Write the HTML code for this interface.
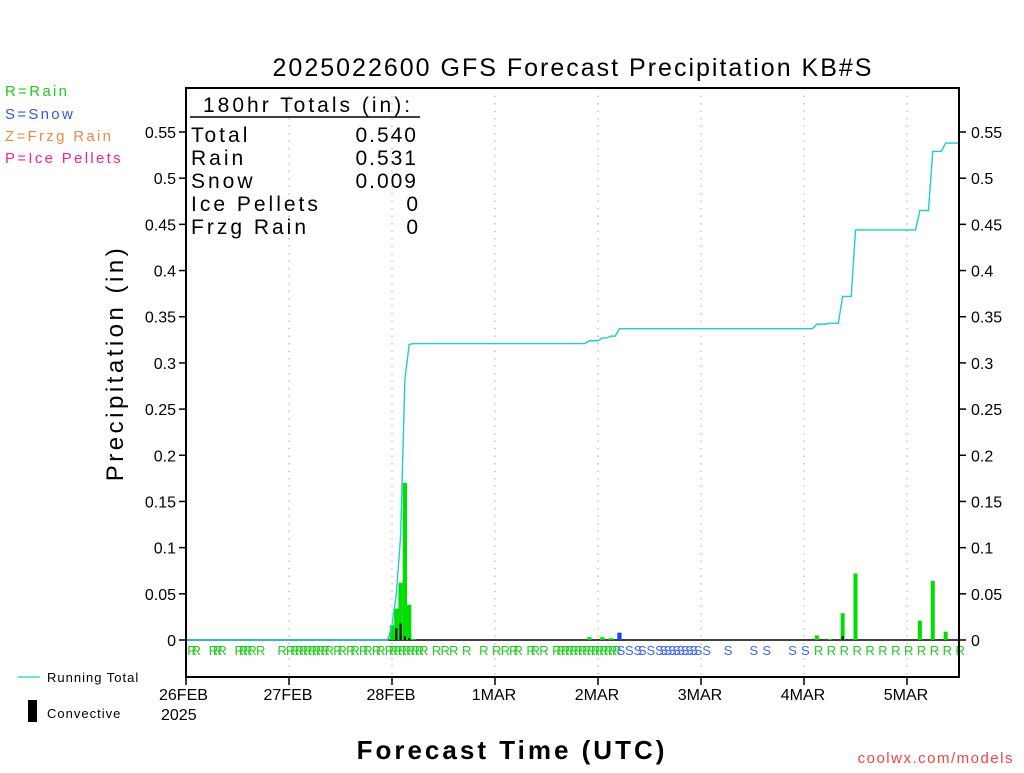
<!DOCTYPE html>
<html><head><meta charset="utf-8"><style>
body{margin:0;background:#fff;}
svg text{font-family:"Liberation Sans","DejaVu Sans",sans-serif;}
</style></head><body>
<svg width="1024" height="768" viewBox="0 0 1024 768" xmlns="http://www.w3.org/2000/svg">
<rect width="1024" height="768" fill="#fff"/>
<text x="573" y="76" font-size="25" letter-spacing="2" text-anchor="middle" fill="#000">2025022600 GFS Forecast Precipitation KB#S</text>
<g font-size="15" letter-spacing="2.3">
<text x="5" y="96" fill="#22cc22">R=Rain</text>
<text x="5" y="119" fill="#3355ee">S=Snow</text>
<text x="5" y="141" fill="#ee8844">Z=Frzg Rain</text>
<text x="5" y="163" fill="#ee2299">P=Ice Pellets</text>
</g>
<g id="plot"></g>
<g font-size="21" fill="#000" letter-spacing="3">
<text x="203" y="112">180hr Totals (in):</text>
<line x1="190" y1="117" x2="420" y2="117" stroke="#000" stroke-width="1.5"/>
<text x="191" y="142">Total</text><text x="418" y="142" text-anchor="end" letter-spacing="2">0.540</text>
<text x="191" y="165">Rain</text><text x="418" y="165" text-anchor="end" letter-spacing="2">0.531</text>
<text x="191" y="188">Snow</text><text x="418" y="188" text-anchor="end" letter-spacing="2">0.009</text>
<text x="191" y="211">Ice Pellets</text><text x="418" y="211" text-anchor="end" letter-spacing="0">0</text>
<text x="191" y="234">Frzg Rain</text><text x="418" y="234" text-anchor="end" letter-spacing="0">0</text>
</g>
<text transform="translate(123,363) rotate(-90)" font-size="24" text-anchor="middle" letter-spacing="3.5">Precipitation (in)</text>
<text x="512" y="759" font-size="26" font-weight="bold" text-anchor="middle" letter-spacing="3">Forecast Time (UTC)</text>
<text x="1014" y="763" font-size="15" fill="#ee4444" text-anchor="end" letter-spacing="1.5">coolwx.com/models</text>
<g>
<line x1="18" y1="677" x2="40" y2="677" stroke="#22cccc" stroke-width="1.2"/>
<text x="47" y="682" font-size="13" letter-spacing="1">Running Total</text>
<rect x="28" y="700" width="9" height="22" fill="#000"/>
<text x="47" y="718" font-size="13" letter-spacing="1">Convective</text>
</g>
</svg>
<script>
const hours=[48,49,50,51,52,53,94,97,99,101,147,150,153,156,171,174,177];
const precip=[0.016,0.034,0.062,0.170,0.038,0.001,0.003,0.003,0.002,0.008,0.005,0.001,0.029,0.072,0.021,0.064,0.009];
const ptype=['R','R','R','R','R','R','R','R','R','S','R','R','R','R','R','R','R'];
const convHours=[49,50,51,52,153];
const convVals=[0.013,0.018,0.004,0.002,0.004];
const yTicks=[0,0.05,0.1,0.15,0.2,0.25,0.3,0.35,0.4,0.45,0.5,0.55];
const yTickLabels=['0','0.05','0.1','0.15','0.2','0.25','0.3','0.35','0.4','0.45','0.5','0.55'];
const dayLabels=['26FEB','27FEB','28FEB','1MAR','2MAR','3MAR','4MAR','5MAR'];
const rHours=[1,2,6,7,8,12,13,14,15,17,22,24,25,26,27,28,29,30,31,32,33,35,36,38,39,41,42,44,45,47,48,49,50,51,52,53,54,55,58,60,62,65,69,72,74,76,77,80,81,83,86,87,88,89,90,91,92,93,94,95,96,97,98,99,100,147,150,153,156,159,162,165,168,171,174,177,180];
const sHours=[101,103,105,106,108,110,111,112,113,114,115,116,117,118,119,121,126,132,135,141,144];

const NS='http://www.w3.org/2000/svg';
const plot=document.getElementById('plot');
const X0=186,X1=959,Y0=640,YTOP=88,YBOT=677,PX_H=103/24,PX_IN=(640-132)/0.55;
const xs=h=>X0+h*PX_H, ys=v=>Y0-v*PX_IN;
function mk(tag,attrs,parent){const e=document.createElementNS(NS,tag);for(const k in attrs)e.setAttribute(k,attrs[k]);(parent||plot).appendChild(e);return e;}
dayLabels.forEach((d,i)=>{const x=xs(i*24);
 if(i>0){const g=mk('line',{x1:x,y1:YTOP,x2:x,y2:YBOT,stroke:'#aaa','stroke-dasharray':'1.5,6'});
 
 }
 mk('line',{x1:x,y1:YBOT,x2:x,y2:YBOT+8,stroke:'#000','stroke-width':1.5});
 const l=mk('text',{x:x-1,y:700,'font-size':16,'text-anchor':i==0?'start':'middle',fill:'#000'});
 l.textContent=d;
 
 
 if(i==0){l.setAttribute('x',x-27);}
});
const yr=mk('text',{x:161,y:720,'font-size':16,fill:'#000'});yr.textContent='2025';


yTicks.forEach((v,i)=>{const y=ys(v);
 mk('line',{x1:X0-7,y1:y,x2:X0,y2:y,stroke:'#000','stroke-width':1.5});
 mk('line',{x1:X1,y1:y,x2:X1+7,y2:y,stroke:'#000','stroke-width':1.5});
 const a=mk('text',{x:X0-10,y:y+6,'font-size':16,'text-anchor':'end'});a.textContent=yTickLabels[i];
 
 
 const b=mk('text',{x:X1+12,y:y+6,'font-size':16});b.textContent=yTickLabels[i];
 
 
});
mk('line',{x1:X0,y1:Y0,x2:X1,y2:Y0,stroke:'#000','stroke-width':1.5});
hours.forEach((h,i)=>{const w=h>120?4:4.3;const x=xs(h)-w/2;const v=precip[i];
 const r=mk('rect',{x:x,y:ys(v),width:w,height:Math.max(v*PX_IN,0.8),fill:ptype[i]=='S'?'#2244ee':'#00dd00'});
 
 
});
convHours.forEach((h,i)=>{const r=mk('rect',{x:xs(h)-1,y:ys(convVals[i]),width:2,height:convVals[i]*PX_IN,fill:'#000'});
 
 
});
let cum=0,pts=[[xs(0),ys(0)]];
hours.forEach((h,i)=>{pts.push([xs(h-1),ys(cum)]);cum+=precip[i];pts.push([xs(h),ys(cum)]);});
pts.push([xs(180),ys(cum)]);
const pl=mk('polyline',{points:pts.map(p=>p.join(',')).join(' '),fill:'none',stroke:'#22cccc','stroke-width':1.4});


rHours.forEach(h=>{const t=mk('text',{x:xs(h)-3,y:655,'font-size':13,fill:'#22cc22'});t.textContent='R';
 
 });
sHours.forEach(h=>{const t=mk('text',{x:xs(h)-3,y:655,'font-size':13,fill:'#4466ee'});t.textContent='S';
 
 });
const fr=mk('rect',{x:X0,y:YTOP,width:X1-X0,height:YBOT-YTOP,fill:'none',stroke:'#000','stroke-width':2});


</script>
</body></html>
